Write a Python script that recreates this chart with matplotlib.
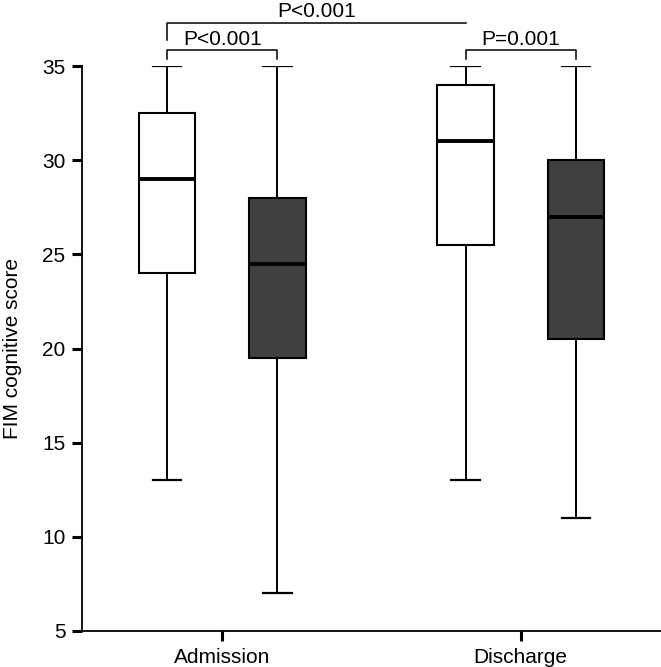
import matplotlib
matplotlib.use("Agg")
import matplotlib.pyplot as plt

plt.rcParams["font.family"] = ["Liberation Sans", "DejaVu Sans"]

# box statistics: (whislo, q1, med, q3, whishi)
groups = ["Admission", "Discharge"]
light_stats = [(13, 24, 29, 32.5, 35), (13, 25.5, 31, 34, 35)]
dark_stats = [(7, 19.5, 24.5, 28, 35), (11, 20.5, 27, 30, 35)]
yticks = [5, 10, 15, 20, 25, 30, 35]
inner_p = ["P<0.001", "P=0.001"]
outer_p = "P<0.001"

OFFSET = 0.185
WIDTH = 0.19
DARK = "#404040"


def to_bxp(stats, label):
    lo, q1, med, q3, hi = stats
    return dict(whislo=lo, q1=q1, med=med, q3=q3, whishi=hi, fliers=[], label=label)


fig = plt.figure(figsize=(6.61, 6.67), dpi=100)
ax = fig.add_axes([0.124, 0.054, 0.876, 0.847])

centers = list(range(1, len(groups) + 1))
for stats_list, shift, face in ((light_stats, -OFFSET, "white"), (dark_stats, OFFSET, DARK)):
    ax.bxp(
        [to_bxp(s, g) for s, g in zip(stats_list, groups)],
        positions=[c + shift for c in centers],
        widths=WIDTH,
        patch_artist=True,
        showfliers=False,
        boxprops=dict(facecolor=face, edgecolor="black", linewidth=1.5),
        medianprops=dict(color="black", linewidth=2.8),
        whiskerprops=dict(color="black", linewidth=1.4),
        capprops=dict(color="black", linewidth=1.6),
        capwidths=WIDTH / 2,
        manage_ticks=False,
    )

ax.set_xlim(0.53, 2.47)
ax.set_ylim(5, 35)
ax.set_xticks(centers)
ax.set_xticklabels(groups, fontsize=15)
ax.set_yticks(yticks)
ax.tick_params(axis="y", labelsize=15, length=7, width=2.2, pad=5)
ax.tick_params(axis="x", length=7, width=2.2, pad=5)
ax.set_ylabel("FIM cognitive score", fontsize=15, labelpad=14)
for side in ("top", "right"):
    ax.spines[side].set_visible(False)
ax.spines["left"].set_linewidth(1.3)
ax.spines["bottom"].set_linewidth(1.3)


def bracket(x0, x1, y, leg0, leg1, text, ty):
    ax.plot([x0, x0, x1, x1], [y - leg0, y, y, y - leg1], color="black",
            linewidth=1.1, clip_on=False)
    ax.text((x0 + x1) / 2, ty, text, ha="center", va="baseline", fontsize=15)


# within-group brackets
for c, txt in zip(centers, inner_p):
    bracket(c - OFFSET, c + OFFSET, 35.85, 0.45, 0.45, txt, 36.12)

# between admission and discharge (light boxes)
bracket(centers[0] - OFFSET, centers[1] - OFFSET, 37.28, 0.9, 0.0, outer_p, 37.6)

fig.savefig("out.png", dpi=100)
